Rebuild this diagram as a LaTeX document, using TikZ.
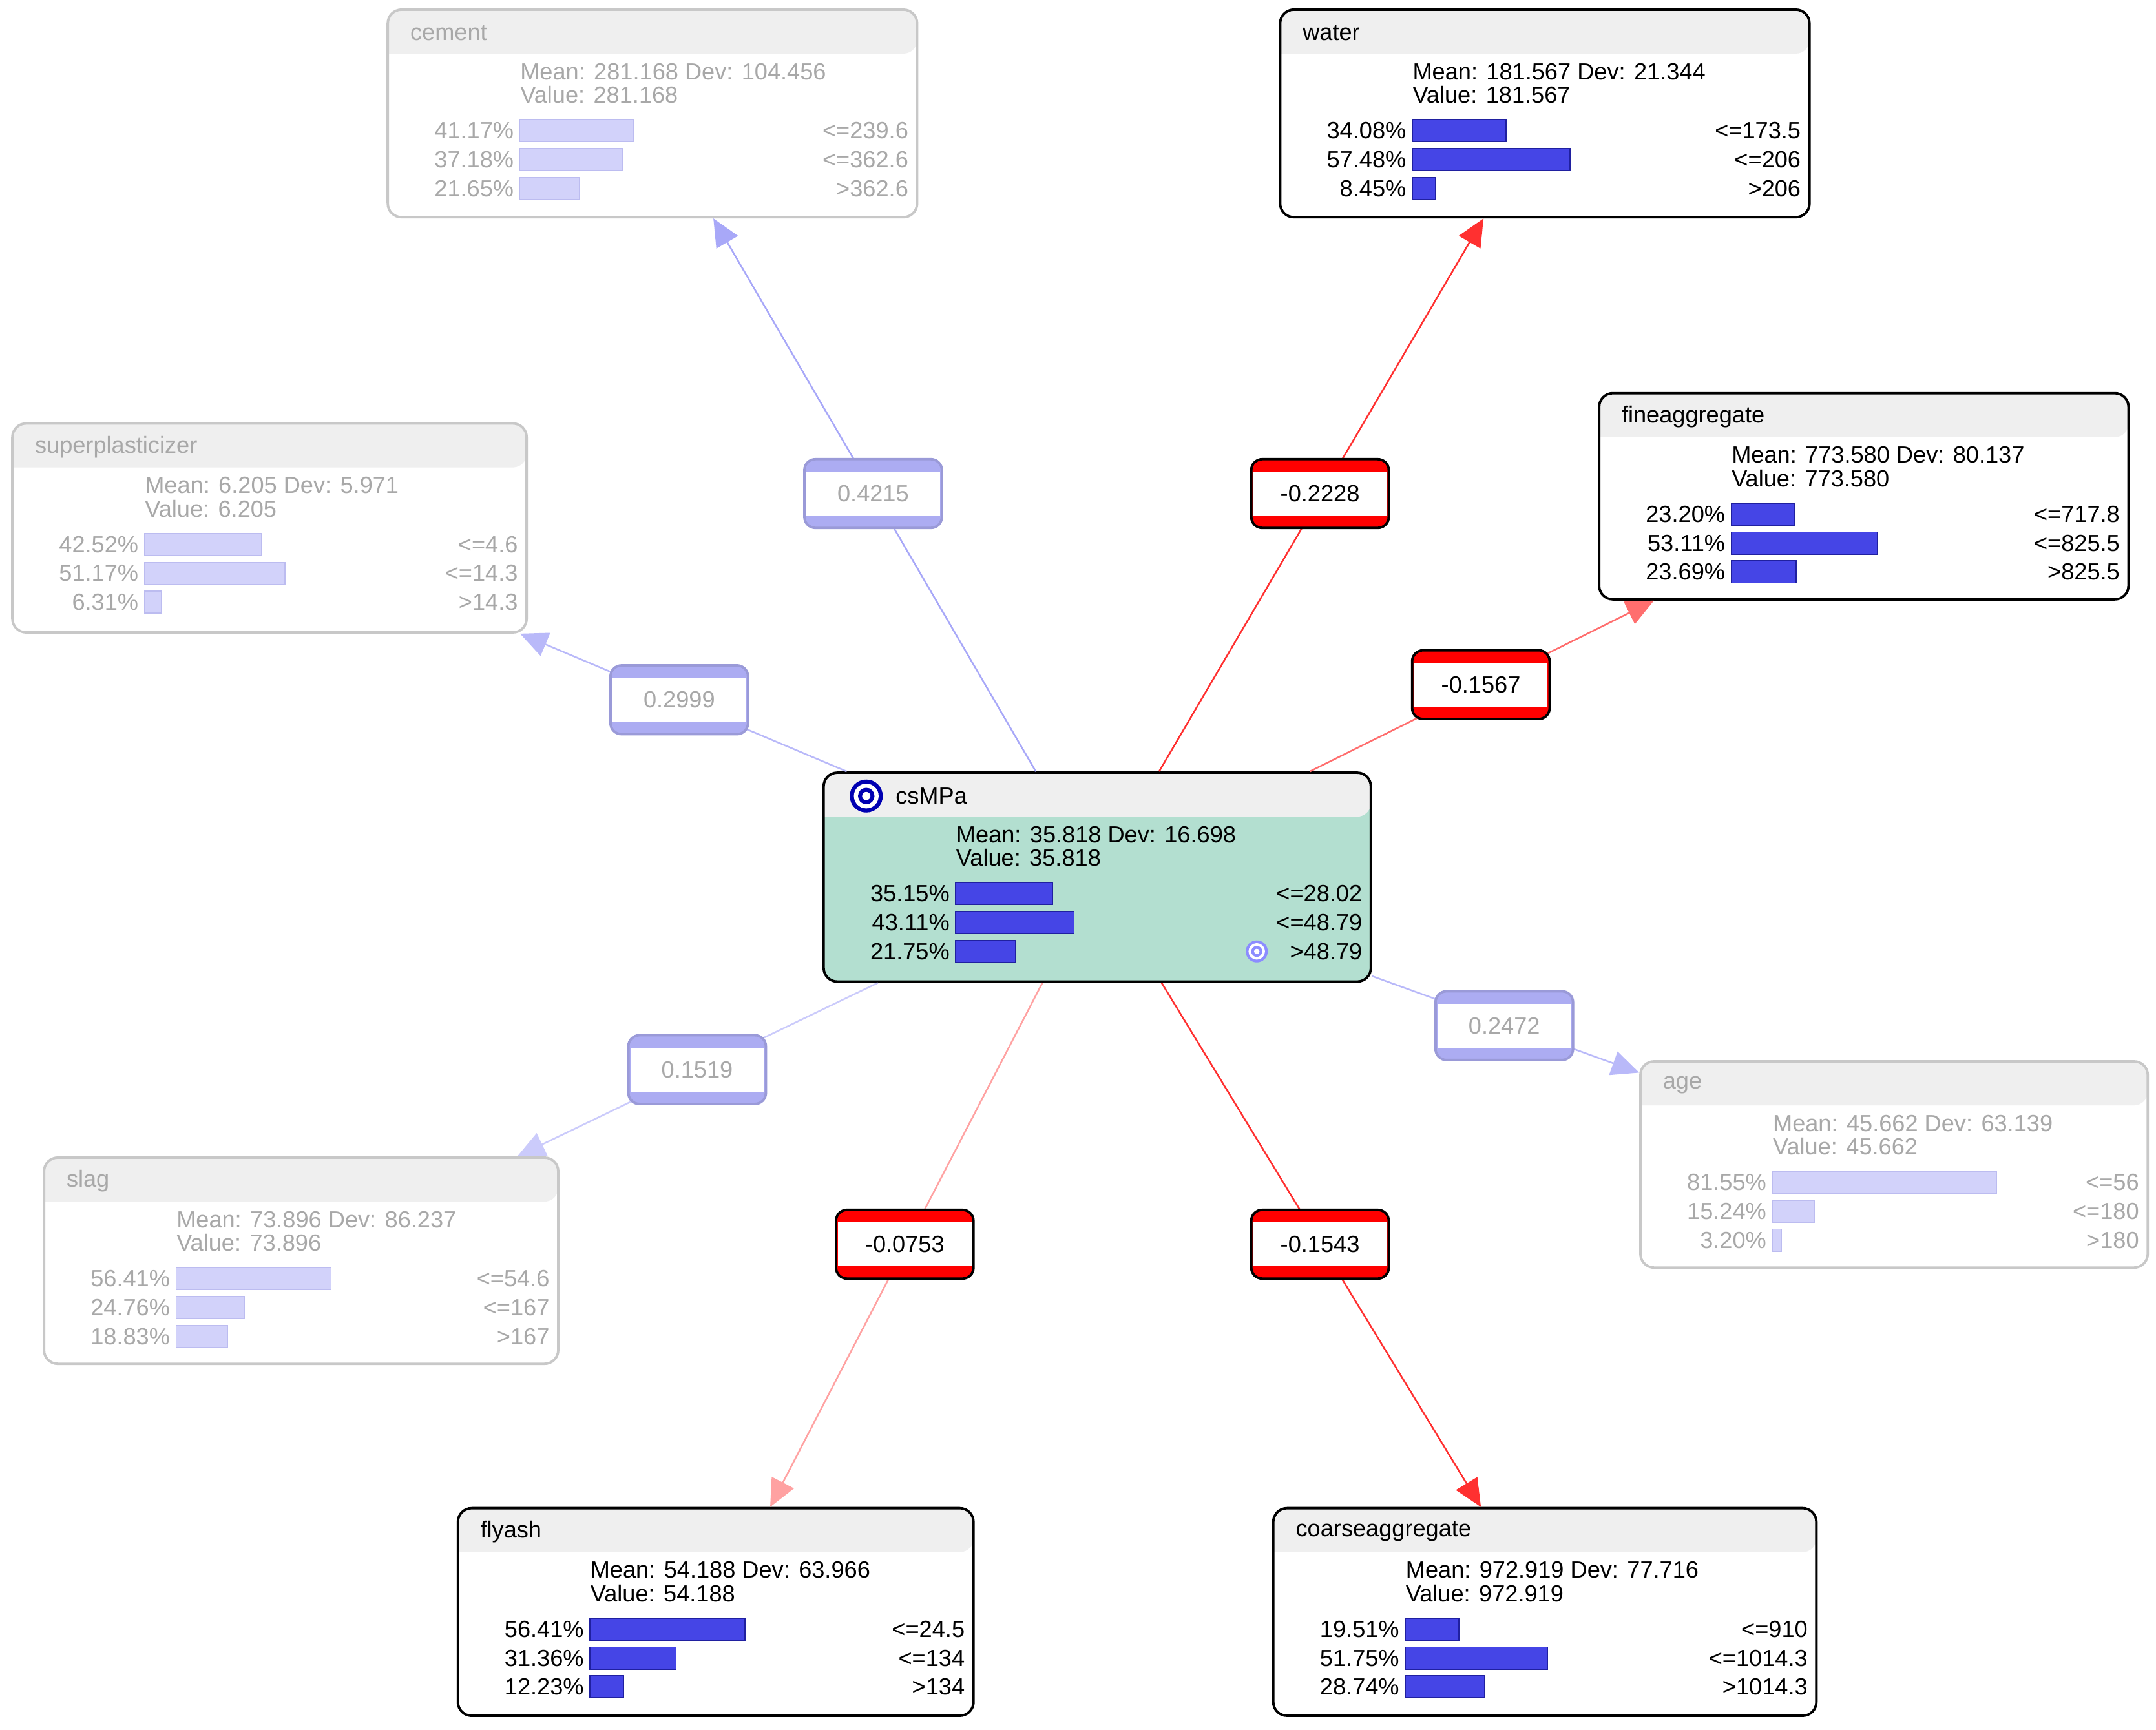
\documentclass[tikz,border=0pt]{standalone}
\usepackage{fontspec}
\setmainfont{Liberation Sans}
\usetikzlibrary{arrows.meta}
\definecolor{hdr}{HTML}{EFEFEF}
\definecolor{csbody}{HTML}{B3DFD0}
\definecolor{barA}{HTML}{4545E6}
\definecolor{barAd}{HTML}{2020A0}
\definecolor{barF}{HTML}{D2D2FA}
\definecolor{barFd}{HTML}{BCBCF0}
\definecolor{fadetxt}{HTML}{A8A8A8}
\definecolor{fadebd}{HTML}{C8C8C8}
\definecolor{negc}{HTML}{FF3030}
\definecolor{posc}{HTML}{A8A8F8}
\definecolor{posstrip}{HTML}{ACACF2}
\definecolor{posbd}{HTML}{9A9AD8}
\tikzset{
  txt/.style={font=\fontsize{8.5}{10}\selectfont, text=\tc, inner sep=0pt},
  negedge/.style={draw=negc, line width=0.6pt, -{Triangle[length=10pt,width=9pt]}},
  posedge/.style={draw=posc, line width=0.6pt, -{Triangle[length=10pt,width=9pt]}},
}
\def\tc{black}\def\bd{black}\def\bodyf{white}\def\barc{barA}\def\bard{barAd}
\newcommand{\fadeset}{\def\tc{fadetxt}\def\bd{fadebd}\def\bodyf{white}\def\barc{barF}\def\bard{barFd}}
\newcommand{\fullset}{\def\tc{black}\def\bd{black}\def\bodyf{white}\def\barc{barA}\def\bard{barAd}}
% name x1 y1 x2 y2 title mean value
\newcommand{\vbx}[8]{%
  \fill[\bodyf,rounded corners=5pt] (#2,#3) rectangle (#4,#5);
  \fill[hdr,rounded corners=5pt] (#2,{#3+32}) -- (#2,#3) -- (#4,#3) -- (#4,{#3+32}) [sharp corners] -- cycle;
  \node[draw=\bd, line width=0.9pt, rounded corners=5pt, minimum width={(#4-#2)*0.5pt}, minimum height={(#5-#3)*0.5pt}, inner sep=0pt] (#1) at ({(#2+#4)/2},{(#3+#5)/2}) {};
  \node[txt,anchor=west] (#1-t) at ({#2+16},{#3+17}) {#6};
  \node[txt,anchor=west] (#1-m) at ({#2+96},{#3+45}) {#7};
  \node[txt,anchor=west] (#1-v) at ({#2+96},{#3+62}) {#8};
}
\newcommand{\vrw}[5]{% x1 x2 y pct label
  \node[txt,anchor=east] at ({#1+92},#3) {#4\%};
  \filldraw[fill=\barc,draw=\bard,line width=0.4pt] ({#1+96},{#3-8}) rectangle ({#1+96+2*#4},{#3+8});
  \node[txt,anchor=east] at ({#2-6},#3) {#5};
}
\newcommand{\vrows}[9]{%
  \vrw{#1}{#3}{#2+88}{#4}{#5}\vrw{#1}{#3}{#2+109}{#6}{#7}\vrw{#1}{#3}{#2+130}{#8}{#9}}
% edge label: name cx cy text neg/pos
\newcommand{\elab}[5]{%
  \ifx n#5\def\lbd{black}\def\lst{red}\def\ltc{black}\else\def\lbd{posbd}\def\lst{posstrip}\def\ltc{fadetxt}\fi
  \node[draw=\lbd, fill=\lst, rounded corners=4pt, minimum width=50pt, minimum height=25pt, line width=0.9pt, inner sep=0pt] (#1) at (#2,#3) {};
  \fill[white] ({#2-48.5},{#3-16}) rectangle ({#2+48.5},{#3+16});
  \node[font=\fontsize{8.5}{10}\selectfont, text=\ltc, inner sep=0pt] (#1-t) at (#2,#3) {#4};
}
\begin{document}
\begin{tikzpicture}[x=0.5pt,y=-0.5pt]
\useasboundingbox (0,0) rectangle (1568,1258);
% nodes
\fadeset
\vbx{cement}{282}{7}{667}{158}{cement}{Mean: 281.168 Dev: 104.456}{Value: 281.168}
\vrows{282}{7}{667}{41.17}{<=239.6}{37.18}{<=362.6}{21.65}{>362.6}
\vbx{sup}{9}{308}{383}{460}{superplasticizer}{Mean: 6.205 Dev: 5.971}{Value: 6.205}
\vrows{9}{308}{383}{42.52}{<=4.6}{51.17}{<=14.3}{6.31}{>14.3}
\vbx{age}{1193}{772}{1562}{922}{age}{Mean: 45.662 Dev: 63.139}{Value: 45.662}
\vrows{1193}{772}{1562}{81.55}{<=56}{15.24}{<=180}{3.20}{>180}
\vbx{slag}{32}{842}{406}{992}{slag}{Mean: 73.896 Dev: 86.237}{Value: 73.896}
\vrows{32}{842}{406}{56.41}{<=54.6}{24.76}{<=167}{18.83}{>167}
\fullset
\vbx{water}{931}{7}{1316}{158}{water}{Mean: 181.567 Dev: 21.344}{Value: 181.567}
\vrows{931}{7}{1316}{34.08}{<=173.5}{57.48}{<=206}{8.45}{>206}
\vbx{fine}{1163}{286}{1548}{436}{fineaggregate}{Mean: 773.580 Dev: 80.137}{Value: 773.580}
\vrows{1163}{286}{1548}{23.20}{<=717.8}{53.11}{<=825.5}{23.69}{>825.5}
\vbx{fly}{333}{1097}{708}{1248}{flyash}{Mean: 54.188 Dev: 63.966}{Value: 54.188}
\vrows{333}{1097}{708}{56.41}{<=24.5}{31.36}{<=134}{12.23}{>134}
\vbx{coarse}{926}{1097}{1321}{1248}{coarseaggregate}{Mean: 972.919 Dev: 77.716}{Value: 972.919}
\vrows{926}{1097}{1321}{19.51}{<=910}{51.75}{<=1014.3}{28.74}{>1014.3}
\def\bodyf{csbody}
\vbx{cs}{599}{562}{997}{714}{\hspace{18pt}csMPa}{Mean: 35.818 Dev: 16.698}{Value: 35.818}
\vrows{599}{562}{997}{35.15}{<=28.02}{43.11}{<=48.79}{21.75}{>48.79}
\foreach \r/\c in {12/blue!70!black,9/white,6/blue!70!black,3/white}{\fill[\c] (630,579) circle (\r);}
\foreach \r/\c in {8/blue!45,6/white,4/blue!45,2/white}{\fill[\c] (914,692) circle (\r);}
% edges
\draw[posedge] (cs) -- (cement);
\draw[posedge,draw=posc!80] (cs) -- (sup);
\draw[posedge,draw=posc!80] (cs) -- (age);
\draw[posedge,draw=posc!60] (cs) -- (slag);
\draw[negedge] (cs) -- (water);
\draw[negedge,draw=negc!70] (cs) -- (fine);
\draw[negedge,draw=negc!45] (cs) -- (fly);
\draw[negedge] (cs) -- (coarse);
% edge labels
\elab{l1}{635}{359}{0.4215}{p}
\elab{l2}{960}{359}{-0.2228}{n}
\elab{l3}{494}{509}{0.2999}{p}
\elab{l4}{1077}{498}{-0.1567}{n}
\elab{l5}{1094}{746}{0.2472}{p}
\elab{l6}{507}{778}{0.1519}{p}
\elab{l7}{658}{905}{-0.0753}{n}
\elab{l8}{960}{905}{-0.1543}{n}
\end{tikzpicture}
\end{document}
